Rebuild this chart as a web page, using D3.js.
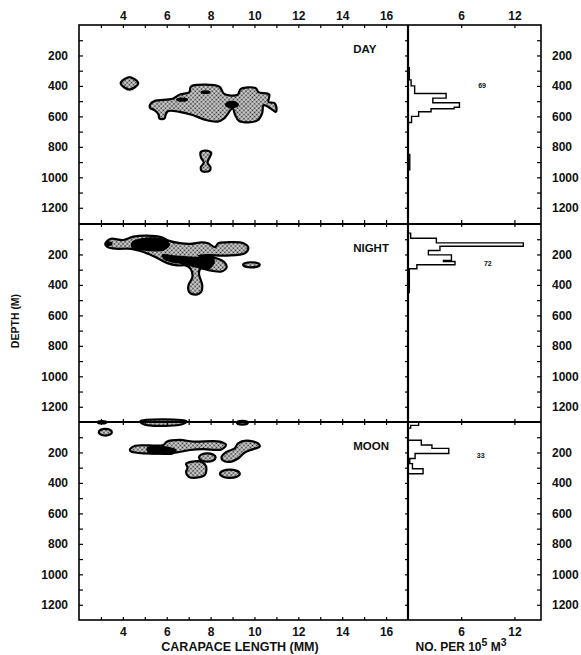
<!DOCTYPE html>
<html>
<head>
<meta charset="utf-8">
<script src="https://cdn.jsdelivr.net/npm/d3@7/dist/d3.min.js"></script>
<style>
body{margin:0;background:#fff;}
text{font-family:"Liberation Sans","DejaVu Sans",sans-serif;font-weight:bold;fill:#111;}
</style>
</head>
<body>
<div id="vis"></div>
<script>
// tick values
const lengthTicks = [4, 6, 8, 10, 12, 14, 16];
const depthTicks = [200, 400, 600, 800, 1000, 1200];
const abundTicks = [6, 12];
const panelNames = ["DAY", "NIGHT", "MOON"];
const panelTotals = [69, 72, 33];

// contours, [carapace length mm, depth m]
const dayStipple = [
  [[5.24,523],[5.44,499],[6.27,484],[6.6,456],[7.03,441],[7.08,409],[7.18,398],[8.39,404],[8.62,452],[9.23,458],[9.38,419],[10.06,415],[10.18,441],[10.67,456],[10.64,505],[10.9,512],[11.0,540],[10.97,570],[10.85,560],[10.42,527],[10.35,580],[10.12,628],[9.3,630],[9.12,591],[9.0,548],[8.62,613],[8.32,634],[7.79,624],[7.18,591],[6.58,570],[6.05,566],[5.95,590],[5.9,613],[5.67,615],[5.62,585],[5.44,559],[5.24,544]],
  [[3.9,383],[4.3,342],[4.7,383],[4.3,424]],
  [[7.55,834],[7.78,825],[8.03,840],[7.95,870],[7.86,903],[8.0,935],[7.95,957],[7.6,960],[7.55,935],[7.69,903],[7.56,870]]
];
const dayBlackEllipses = [[7.77,441,0.23,12],[6.7,490,0.28,14],[8.97,523,0.32,25]];

const nightStipple = [
  [[3.2,131],[3.42,98],[4.03,105],[4.48,83],[5.09,76],[5.77,87],[6.07,109],[6.6,126],[7.06,131],[7.59,120],[7.89,126],[8.2,152],[8.35,126],[8.73,120],[9.5,126],[9.72,157],[9.56,192],[8.73,207],[7.9,205],[7.45,208],[7.9,217],[8.3,226],[8.62,250],[8.73,283],[8.5,312],[7.97,305],[7.54,294],[7.47,327],[7.62,403],[7.57,446],[7.32,464],[7.02,446],[6.99,403],[7.17,348],[7.09,294],[6.86,272],[6.49,272],[6.03,257],[5.5,218],[4.97,185],[4.38,163],[3.76,163],[3.3,152]]
];
const nightBlack = [
  [[4.4,118],[5.09,88],[5.9,100],[6.15,135],[5.9,172],[5.09,178],[4.4,155]],
  [[5.77,201],[6.45,207],[7.06,214],[7.6,215],[8.1,222],[8.2,250],[8.0,292],[7.82,301],[7.21,283],[6.75,266],[6.15,250],[5.85,229]]
];
const nightBlackEllipses = [[3.35,130,0.18,16]];
const nightEllipses = [[9.86,268,0.38,17]];

const moonStipple = [
  [[4.33,178],[4.56,156],[5.85,151],[6.0,129],[6.6,118],[7.21,129],[8.42,129],[8.7,151],[8.5,180],[7.66,178],[7.06,184],[6.45,200],[5.85,207],[4.56,200],[4.33,189]],
  [[8.5,229],[8.73,196],[9.1,173],[9.25,140],[9.64,122],[10.16,140],[10.24,162],[9.94,178],[9.56,200],[9.25,240],[8.88,262],[8.55,251]],
  [[6.88,275],[7.1,262],[7.6,262],[7.79,290],[7.75,345],[7.5,362],[7.0,360],[6.88,330],[6.95,300]],
  [[4.8,-5],[6.9,-5],[6.7,15],[6.0,25],[5.2,22],[4.9,12]]
];
const moonBlack = [
  [[5.09,167],[5.85,158],[6.45,184],[6.3,211],[5.55,213],[5.16,207]]
];
const moonEllipses = [[3.2,67,0.3,22],[7.85,233,0.38,27],[8.88,340,0.45,27],[9.45,5,0.25,12],[3.05,2,0.2,8]];

// histograms: [depth from, depth to, no. per 10^5 m^3]
const dayHist = [[280,360,0.15],[360,400,0.35],[400,450,0.75],[450,480,4.3],[480,510,2.8],[510,540,5.8],[540,550,5.2],[550,570,2.6],[570,600,1.2],[600,640,0.4],[850,950,0.2]];
const nightHist = [[60,94,0.3],[94,124,3.2],[124,146,13.0],[146,174,3.6],[174,203,2.3],[203,240,4.9],[240,246,4.0],[246,268,5.3],[268,294,1.0],[294,450,0.15]];
const moonHist = [[0,22,1.2],[22,40,0.3],[120,151,1.5],[151,173,2.7],[173,207,4.6],[207,240,0.8],[240,273,0.2],[273,307,0.5],[307,340,1.7]];

const W = 581, H = 655;
const left = 79, mid = 408, right = 541;
const panelTop = [25, 224, 422], panelH = 198;

const svg = d3.select("#vis").append("svg").attr("width", W).attr("height", H);

const defs = svg.append("defs");
const pat = defs.append("pattern").attr("id", "stip")
  .attr("width", 3).attr("height", 3).attr("patternUnits", "userSpaceOnUse")
  .attr("patternTransform", "rotate(45)");
pat.append("rect").attr("width", 3).attr("height", 3).attr("fill", "#d4d4d4");
pat.append("circle").attr("cx", 1.5).attr("cy", 1.5).attr("r", 0.95).attr("fill", "#2a2a2a");

const x = d3.scaleLinear().domain([2, 17]).range([left, mid]);
const hx = d3.scaleLinear().domain([0, 15]).range([mid, right]);

const panels = [
  {stipple: dayStipple, black: [], blackEll: dayBlackEllipses, ell: [], hist: dayHist, totPos: [8.35, 400]},
  {stipple: nightStipple, black: nightBlack, blackEll: nightBlackEllipses, ell: nightEllipses, hist: nightHist, totPos: [9.0, 257]},
  {stipple: moonStipple, black: moonBlack, blackEll: [], ell: moonEllipses, hist: moonHist, totPos: [8.2, 218]}
];

function histPoints(bins){
  const pts = [];
  bins.forEach((b, i) => {
    const prev = bins[i-1], next = bins[i+1];
    if (!prev || prev[1] !== b[0]) pts.push([0, b[0]]);
    pts.push([b[2], b[0]], [b[2], b[1]]);
    if (!next || next[0] !== b[1]) pts.push([0, b[1]]);
  });
  return pts;
}

function styleAxis(a){
  a.attr("font-size", 12).attr("font-family", null);
  a.select(".domain").remove();
  a.selectAll("line").attr("stroke-width", 1.2);
}

panels.forEach((p, i) => {
  const top = panelTop[i];
  const y = d3.scaleLinear().domain([0, 1300]).range([top, top + panelH]);
  const g = svg.append("g");

  const blob = d3.line().x(d => x(d[0])).y(d => y(d[1])).curve(d3.curveCatmullRomClosed.alpha(0.5));

  g.selectAll(".stip").data(p.stipple).enter().append("path")
    .attr("d", blob).attr("fill", "url(#stip)")
    .attr("stroke", "#000").attr("stroke-width", 2.2).attr("stroke-linejoin", "round");
  g.selectAll(".ell").data(p.ell).enter().append("ellipse")
    .attr("cx", d => x(d[0])).attr("cy", d => y(d[1]))
    .attr("rx", d => x(d[0] + d[2]) - x(d[0])).attr("ry", d => y(d[1] + d[3]) - y(d[1]))
    .attr("fill", "url(#stip)").attr("stroke", "#000").attr("stroke-width", 2.2);
  g.selectAll(".blk").data(p.black).enter().append("path")
    .attr("d", blob).attr("fill", "#000");
  g.selectAll(".blke").data(p.blackEll).enter().append("ellipse")
    .attr("cx", d => x(d[0])).attr("cy", d => y(d[1]))
    .attr("rx", d => x(d[0] + d[2]) - x(d[0])).attr("ry", d => y(d[1] + d[3]) - y(d[1]))
    .attr("fill", "#000");

  // histogram
  const step = d3.line().x(d => hx(d[0])).y(d => y(d[1]));
  g.append("path").attr("d", step(histPoints(p.hist)))
    .attr("fill", "none").attr("stroke", "#000").attr("stroke-width", 1.4);
  g.append("text").attr("x", hx(p.totPos[0])).attr("y", y(p.totPos[1]))
    .attr("dy", "0.35em").attr("text-anchor", "middle").attr("font-size", 7)
    .text(panelTotals[i]);

  g.append("text").attr("x", x(14.5)).attr("y", top + 24)
    .attr("dy", "0.35em").attr("font-size", 11.5)
    .text(panelNames[i]);

  // depth axes
  const minor = d3.range(100, 1300, 100);
  const fmt = d => depthTicks.includes(d) ? d : "";
  styleAxis(svg.append("g").attr("transform", `translate(${left},0)`)
    .call(d3.axisLeft(y).tickValues(minor).tickSize(-4).tickPadding(11).tickFormat(fmt)));
  styleAxis(svg.append("g").attr("transform", `translate(${right},0)`)
    .call(d3.axisRight(y).tickValues(minor).tickSize(-4).tickPadding(11).tickFormat(fmt)));
  styleAxis(svg.append("g").attr("transform", `translate(${mid},0)`)
    .call(d3.axisLeft(y).tickValues(minor).tickSize(3).tickFormat("")));

  // length ticks along panel top (pointing down) and bottom (pointing up)
  const lenMinor = d3.range(3, 17);
  const lenFmt = d => lengthTicks.includes(d) ? d : "";
  styleAxis(svg.append("g").attr("transform", `translate(0,${top})`)
    .call(d3.axisTop(x).tickValues(lenMinor).tickSize(-3).tickPadding(5.5).tickFormat(i === 0 ? lenFmt : "")));
  styleAxis(svg.append("g").attr("transform", `translate(0,${top + panelH})`)
    .call(d3.axisBottom(x).tickValues(lenMinor).tickSize(-3).tickPadding(7).tickFormat(i === 2 ? lenFmt : "")));
  styleAxis(svg.append("g").attr("transform", `translate(0,${top})`)
    .call(d3.axisTop(hx).tickValues(abundTicks).tickSize(-3).tickPadding(5.5).tickFormat(i === 0 ? null : "")));
  styleAxis(svg.append("g").attr("transform", `translate(0,${top + panelH})`)
    .call(d3.axisBottom(hx).tickValues(abundTicks).tickSize(-3).tickPadding(7).tickFormat(i === 2 ? null : "")));
});

// frames
const frame = svg.append("g").attr("fill", "none").attr("stroke", "#000");
frame.append("rect").attr("x", left).attr("y", panelTop[0])
  .attr("width", right - left).attr("height", panelTop[2] + panelH - panelTop[0]).attr("stroke-width", 1.6);
frame.append("line").attr("x1", mid).attr("x2", mid).attr("y1", panelTop[0]).attr("y2", panelTop[2] + panelH).attr("stroke-width", 2.2);
[panelTop[1], panelTop[2]].forEach(t => {
  frame.append("line").attr("x1", left).attr("x2", right).attr("y1", t).attr("y2", t).attr("stroke-width", 1.8);
});

// axis titles
svg.append("text").attr("transform", "translate(15,321) rotate(-90)")
  .attr("text-anchor", "middle").attr("dy", "0.35em").attr("font-size", 10.5)
  .text("DEPTH (M)");
svg.append("text").attr("x", 240).attr("y", 651).attr("text-anchor", "middle")
  .attr("font-size", 12.5).text("CARAPACE LENGTH (MM)");
const nt = svg.append("text").attr("x", 461).attr("y", 651).attr("text-anchor", "middle")
  .attr("font-size", 12);
nt.append("tspan").text("NO. PER 10");
nt.append("tspan").attr("dy", -5).attr("font-size", 10.5).text("5");
nt.append("tspan").attr("dy", 5).text(" M");
nt.append("tspan").attr("dy", -5).attr("font-size", 10.5).text("3");
</script>
</body>
</html>
